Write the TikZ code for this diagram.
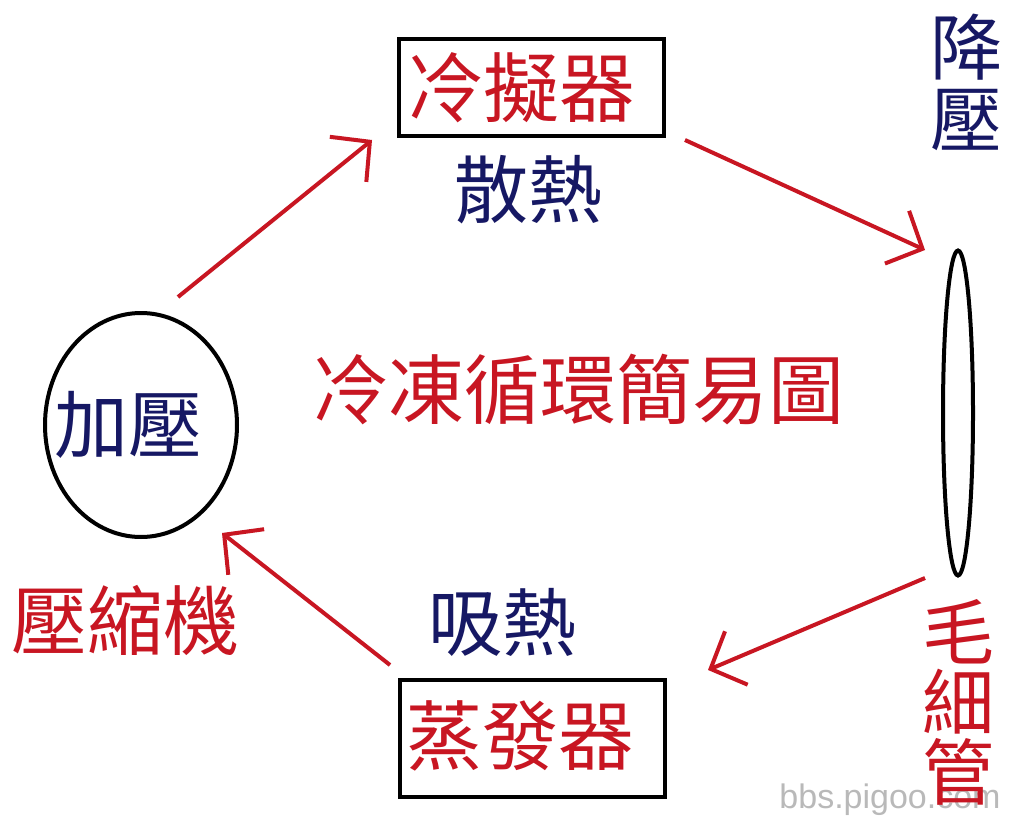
\documentclass[tikz,border=0pt]{standalone}
\usepackage{fontspec}
\setmainfont{Liberation Sans}
\newfontfamily\cjk{Noto Sans CJK TC}
\usetikzlibrary{arrows.meta,shapes.geometric}
\definecolor{myred}{RGB}{200,22,34}
\definecolor{mynavy}{RGB}{22,24,100}
\definecolor{wmgray}{RGB}{185,185,185}
\begin{document}
\begin{tikzpicture}[x=1pt,y=-1pt,
  redtxt/.style={text=myred,font=\cjk\fontsize{76}{72}\selectfont,inner sep=0pt,align=center},
  navytxt/.style={text=mynavy,font=\cjk\fontsize{74}{72}\selectfont,inner sep=0pt,align=center},
  unitbox/.style={draw=black,line width=4pt,minimum width=265pt,inner sep=0pt},
  flow/.style={draw=myred,line width=4pt,-{Straight Barb[length=28pt,width=58pt,line width=4pt]}},
  shell/.style={draw=black,line width=4pt,ellipse,inner sep=0pt}]
\fill[white] (0,0) rectangle (1024,826);
\useasboundingbox (0,0) rectangle (1024,826);

% watermark (behind)
\node[text=wmgray,font=\fontsize{34}{34}\selectfont,inner sep=0pt] (wm) at (890,800) {bbs.pigoo.com};

% condenser
\node[unitbox,minimum height=97pt] (cond) at (531,88) {};
\node[redtxt] (condt) at (521,88) {冷擬器};
\node[navytxt] (sanre) at (528,190) {散熱};
% pressure drop label
\node[navytxt,font=\cjk\fontsize{72}{72}\selectfont] (jiangya) at (966,82) {降\\壓};
% capillary
\node[shell,minimum width=30pt,minimum height=325pt] (cap) at (958,413) {};
\node[redtxt,font=\cjk\fontsize{72}{70}\selectfont] (maoxi) at (958,702) {毛\\細\\管};
% compressor
\node[shell,minimum width=192pt,minimum height=224pt] (comp) at (141,425) {};
\node[navytxt] (jiaya) at (128,425) {加壓};
\node[redtxt] (yasuo) at (125,620) {壓縮機};
% evaporator
\node[navytxt] (xire) at (502,622) {吸熱};
\node[unitbox,minimum height=117pt] (evap) at (532,738) {};
\node[redtxt] (evapt) at (520,736) {蒸發器};
% title
\node[redtxt] (title) at (578,390) {冷凍循環簡易圖};

% connector end points
\coordinate (a1s) at (178,297);
\coordinate (a1e) at (372,140);
\coordinate (a2s) at (685,140);
\coordinate (a2e) at (925,250);
\coordinate (a3s) at (925,578);
\coordinate (a3e) at (708,670);
\coordinate (a4s) at (390,665);
\coordinate (a4e) at (222,533);
\draw[flow] (a1s) -- (a1e);
\draw[flow] (a2s) -- (a2e);
\draw[flow] (a3s) -- (a3e);
\draw[flow] (a4s) -- (a4e);
\end{tikzpicture}
\end{document}
